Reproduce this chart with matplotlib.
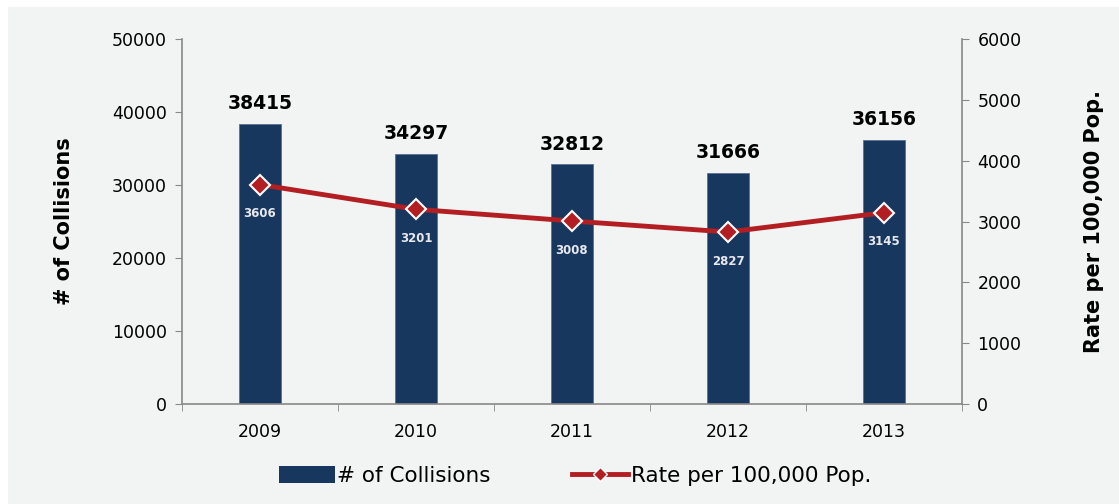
import matplotlib.pyplot as plt
from matplotlib.patches import Rectangle

years = ["2009", "2010", "2011", "2012", "2013"]
collisions = [38415, 34297, 32812, 31666, 36156]
rate = [3606, 3201, 3008, 2827, 3145]

bar_color = "#17375E"
line_color = "#B31E23"
bg = "#F2F3F3"

fig = plt.figure(figsize=(11.19, 5.04), dpi=100, facecolor="white")
fig.patches.append(Rectangle((8 / 1119, 0), 1, 497 / 504, transform=fig.transFigure,
                             facecolor=bg, edgecolor="none", zorder=-10))

ax = fig.add_axes([182 / 1119, 100 / 504, 780 / 1119, 365 / 504])
ax.set_facecolor("none")
x = range(len(years))
ax.bar(x, collisions, width=0.27, color=bar_color, edgecolor="#5a7196", linewidth=0.6, zorder=2)
for xi, v in zip(x, collisions):
    ax.text(xi, v + 1500, str(v), ha="center", va="bottom", fontsize=13.5,
            fontweight="bold", color="black")

ax.set_xlim(-0.5, 4.5)
ax.set_ylim(0, 50000)
ax.set_yticks(range(0, 50001, 10000))
ax.set_xticks(list(x))
ax.set_xticklabels(years)
ax.set_xticks([i + 0.5 for i in range(-1, 5)], minor=True)
ax.tick_params(axis="x", which="major", length=0, pad=14, labelsize=12.5)
ax.tick_params(axis="x", which="minor", length=5, color="#888888", direction="out")
ax.tick_params(axis="y", length=5, color="#888888", labelsize=12.5, pad=6)
for s in ["top", "right"]:
    ax.spines[s].set_visible(False)
for s in ["left", "bottom"]:
    ax.spines[s].set_color("#888888")
    ax.spines[s].set_linewidth(1.2)
ax.set_ylabel("# of Collisions", fontsize=15, fontweight="bold", labelpad=27)

ax2 = ax.twinx()
ax2.set_ylim(0, 6000)
ax2.set_yticks(range(0, 6001, 1000))
ax2.plot(x, rate, color=line_color, linewidth=3.5, marker="D", markersize=10,
         markerfacecolor=line_color, markeredgecolor="white", markeredgewidth=1.5, zorder=3)
for xi, v in zip(x, rate):
    ax2.text(xi, v - 480, str(v), ha="center", va="center", fontsize=8.5,
             fontweight="bold", color="#E8E8EE")
ax2.tick_params(axis="y", length=5, color="#888888", labelsize=12.5, pad=6)
for s in ["top", "left", "bottom"]:
    ax2.spines[s].set_visible(False)
ax2.spines["right"].set_color("#888888")
ax2.spines["right"].set_linewidth(1.2)
ax2.set_ylabel("Rate per 100,000 Pop.", fontsize=15, fontweight="bold", labelpad=45)

h1 = Rectangle((0, 0), 1, 1, facecolor=bar_color)
h2, = ax2.plot([], [], color=line_color, linewidth=3.5, marker="D", markersize=7,
               markerfacecolor=line_color, markeredgecolor="white", markeredgewidth=1)
fig.legend([h1, h2], ["# of Collisions", "Rate per 100,000 Pop."], loc="center",
           bbox_to_anchor=(575 / 1119, 28 / 504), ncol=2, frameon=False,
           fontsize=15.5, handlelength=2.6, handleheight=0.8, columnspacing=3.8,
           handletextpad=0.1)

fig.savefig("out.png", dpi=100, facecolor=fig.get_facecolor())
